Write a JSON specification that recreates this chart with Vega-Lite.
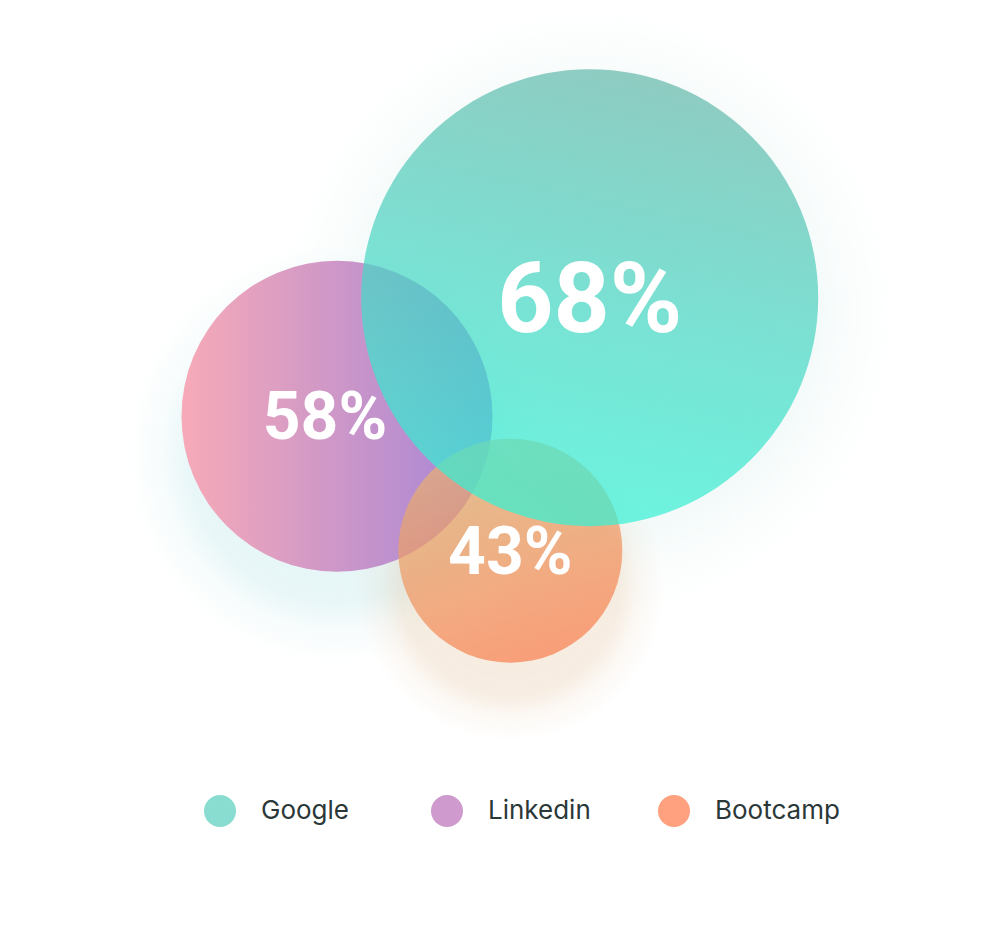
{
  "$schema": "https://vega.github.io/schema/vega-lite/v6.json",
  "width": 1000,
  "height": 927,
  "padding": 0,
  "autosize": {"type": "none"},
  "background": "#ffffff",
  "config": {"view": {"stroke": null}},
  "data": {
    "values": [
      {"name": "Google", "pct": 0.68, "cx": 58.97, "cy": 62.93},
      {"name": "Linkedin", "pct": 0.58, "cx": 33.70, "cy": 51.07},
      {"name": "Bootcamp", "pct": 0.43, "cx": 51.03, "cy": 37.63}
    ]
  },
  "encoding": {
    "x": {"field": "cx", "type": "quantitative", "scale": {"domain": [0, 100], "nice": false, "zero": false}, "axis": null},
    "y": {"field": "cy", "type": "quantitative", "scale": {"domain": [0, 92.7], "nice": false, "zero": false}, "axis": null}
  },
  "layer": [
    {
      "transform": [{"filter": "datum.name === 'Google'"}],
      "mark": {"type": "point", "shape": "circle", "filled": true, "size": 384400, "yOffset": 15, "opacity": 1,
        "fill": {"gradient": "radial", "x1": 0.5, "y1": 0.5, "r1": 0, "x2": 0.5, "y2": 0.5, "r2": 0.5,
          "stops": [{"offset": 0, "color": "rgba(120,200,190,0.1)"}, {"offset": 0.72, "color": "rgba(120,200,190,0.09)"}, {"offset": 0.84, "color": "rgba(120,200,190,0.03)"}, {"offset": 1, "color": "rgba(120,200,190,0)"}]}}
    },
    {
      "transform": [{"filter": "datum.name === 'Linkedin'"}],
      "mark": {"type": "point", "shape": "circle", "filled": true, "size": 176400, "yOffset": 38, "opacity": 1,
        "fill": {"gradient": "radial", "x1": 0.5, "y1": 0.5, "r1": 0, "x2": 0.5, "y2": 0.5, "r2": 0.5,
          "stops": [{"offset": 0, "color": "rgba(150,215,220,0.26)"}, {"offset": 0.7, "color": "rgba(150,215,220,0.22)"}, {"offset": 0.84, "color": "rgba(150,215,220,0.07)"}, {"offset": 1, "color": "rgba(150,215,220,0)"}]}}
    },
    {
      "transform": [{"filter": "datum.name === 'Bootcamp'"}],
      "mark": {"type": "point", "shape": "circle", "filled": true, "size": 96100, "yOffset": 36, "opacity": 1,
        "fill": {"gradient": "radial", "x1": 0.5, "y1": 0.5, "r1": 0, "x2": 0.5, "y2": 0.5, "r2": 0.5,
          "stops": [{"offset": 0, "color": "rgba(215,165,110,0.24)"}, {"offset": 0.7, "color": "rgba(215,165,110,0.2)"}, {"offset": 0.84, "color": "rgba(215,165,110,0.07)"}, {"offset": 1, "color": "rgba(215,165,110,0)"}]}}
    },
    {
      "transform": [{"filter": "datum.name === 'Linkedin'"}],
      "mark": {"type": "point", "shape": "circle", "filled": true, "opacity": 1, "strokeWidth": 0,
        "fill": {"gradient": "linear", "x1": 0, "y1": 0.5, "x2": 1, "y2": 0.5,
          "stops": [{"offset": 0, "color": "#F7AAB8"}, {"offset": 1, "color": "#A384D8"}]}},
      "encoding": {"size": {"field": "name", "type": "nominal", "legend": null,
        "scale": {"type": "ordinal", "domain": ["Bootcamp", "Linkedin", "Google"], "range": [50176, 96721, 208849]}}}
    },
    {
      "transform": [{"filter": "datum.name === 'Bootcamp'"}],
      "mark": {"type": "point", "shape": "circle", "filled": true, "opacity": 0.7, "strokeWidth": 0,
        "fill": {"gradient": "linear", "x1": 0.2, "y1": 0.05, "x2": 0.5, "y2": 1,
          "stops": [{"offset": 0, "color": "#E6B474"}, {"offset": 0.5, "color": "#EE9860"}, {"offset": 1, "color": "#F87E4C"}]}},
      "encoding": {"size": {"field": "name", "type": "nominal", "legend": null,
        "scale": {"type": "ordinal", "domain": ["Bootcamp", "Linkedin", "Google"], "range": [50176, 96721, 208849]}}}
    },
    {
      "transform": [{"filter": "datum.name === 'Google'"}],
      "mark": {"type": "point", "shape": "circle", "filled": true, "opacity": 0.7, "strokeWidth": 0,
        "fill": {"gradient": "linear", "x1": 0.62, "y1": 0, "x2": 0.4, "y2": 1,
          "stops": [{"offset": 0, "color": "#63B6A8"}, {"offset": 0.5, "color": "#47D6C3"}, {"offset": 1, "color": "#30F4D6"}]}},
      "encoding": {"size": {"field": "name", "type": "nominal", "legend": null,
        "scale": {"type": "ordinal", "domain": ["Bootcamp", "Linkedin", "Google"], "range": [50176, 96721, 208849]}}}
    },
    {
      "mark": {"type": "point", "shape": "circle", "filled": true, "size": 0},
      "encoding": {
        "color": {"field": "name", "type": "nominal",
          "scale": {"domain": ["Google", "Linkedin", "Bootcamp"], "range": ["#88DDD0", "#CF9ACD", "#FFA07F"]},
          "legend": {"title": null, "orient": "none", "legendX": 204, "legendY": 795, "direction": "horizontal",
            "gridAlign": "all", "columnPadding": 45, "symbolType": "circle", "symbolSize": 1024,
            "symbolOpacity": 1, "symbolStrokeWidth": 0, "labelFont": "Inter", "labelFontSize": 26,
            "labelColor": "#2B3838", "labelOffset": 25, "labelLimit": 400}}
      }
    },
    {
      "transform": [{"filter": "datum.name === 'Google'"}],
      "mark": {"type": "text", "font": "Roboto", "fontWeight": "bold", "fontSize": 98, "color": "#ffffff", "align": "center", "baseline": "middle", "dy": 5},
      "encoding": {"text": {"field": "pct", "type": "quantitative", "format": ".0%"}}
    },
    {
      "transform": [{"filter": "datum.name === 'Linkedin'"}],
      "mark": {"type": "text", "font": "Roboto", "fontWeight": "bold", "fontSize": 66, "color": "#ffffff", "align": "center", "baseline": "middle", "dy": 3, "dx": -12},
      "encoding": {"text": {"field": "pct", "type": "quantitative", "format": ".0%"}}
    },
    {
      "transform": [{"filter": "datum.name === 'Bootcamp'"}],
      "mark": {"type": "text", "font": "Roboto", "fontWeight": "bold", "fontSize": 66, "color": "#ffffff", "align": "center", "baseline": "middle", "dy": 3},
      "encoding": {"text": {"field": "pct", "type": "quantitative", "format": ".0%"}}
    }
  ]
}
